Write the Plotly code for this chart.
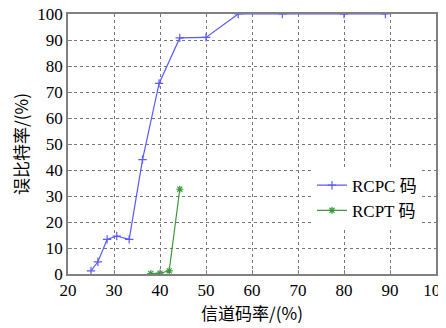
import plotly.graph_objects as go

rcpc_x = [25, 26.5, 28.5, 30.6, 33.3, 36.2, 39.8, 44.3, 50, 57, 66.6, 80, 89]
rcpc_y = [1.2, 4.7, 13.3, 14.6, 13.3, 44, 73.3, 90.8, 91, 100, 100, 100, 100]
rcpt_x = [38, 40, 42, 44.3]
rcpt_y = [0.2, 0.3, 1.2, 32.6]

x_ticks = [20, 30, 40, 50, 60, 70, 80, 90, 100]
y_ticks = [0, 10, 20, 30, 40, 50, 60, 70, 80, 90, 100]

serif = "Times New Roman, Liberation Serif, serif"
legend_font = "Times New Roman, Liberation Serif, Noto Sans CJK SC, serif"
cjk = "Noto Sans CJK SC"

fig = go.Figure()
fig.add_trace(go.Scatter(
    x=rcpc_x, y=rcpc_y, mode="lines+markers", name="RCPC 码",
    line=dict(color="#5a5aff", width=1.2),
    marker=dict(symbol="cross-thin-open", size=6, line=dict(color="#5a5aff", width=1.2)),
))
fig.add_trace(go.Scatter(
    x=rcpt_x, y=rcpt_y, mode="lines+markers", name="RCPT 码",
    line=dict(color="#3a9a3a", width=1.2),
    marker=dict(symbol="asterisk-open", size=6, line=dict(color="#2a8a2a", width=1.2)),
))

axis_common = dict(
    showgrid=True, gridcolor="#777777", griddash="dot", gridwidth=1,
    showline=True, linecolor="#808080", linewidth=1.5, mirror=True,
    ticks="inside", ticklen=4, tickcolor="#808080",
    tickfont=dict(family=serif, size=17, color="black"),
    zeroline=False, automargin=False, ticklabeloverflow="allow",
)

fig.update_xaxes(range=[20, 100], tickvals=x_ticks,
                 title=dict(text="信道码率/(%)", font=dict(family=cjk, size=17, color="black"), standoff=6),
                 **axis_common)
fig.update_yaxes(range=[0, 100], tickvals=y_ticks,
                 title=dict(text="误比特率/(%)", font=dict(family=cjk, size=17, color="black"), standoff=9),
                 **axis_common)

# page body has an 8px default margin, so the figure is sized/offset to compensate
fig.update_layout(
    width=438, height=320,
    margin=dict(l=60, r=10, t=6, b=54, autoexpand=False),
    paper_bgcolor="white", plot_bgcolor="white",
    legend=dict(x=0.663, y=0.409, xanchor="left", yanchor="top",
                bgcolor="white", borderwidth=0,
                font=dict(family=legend_font, size=17, color="black"),
                itemwidth=30, tracegroupgap=0),
    showlegend=True,
)

fig.write_html("out.html")
